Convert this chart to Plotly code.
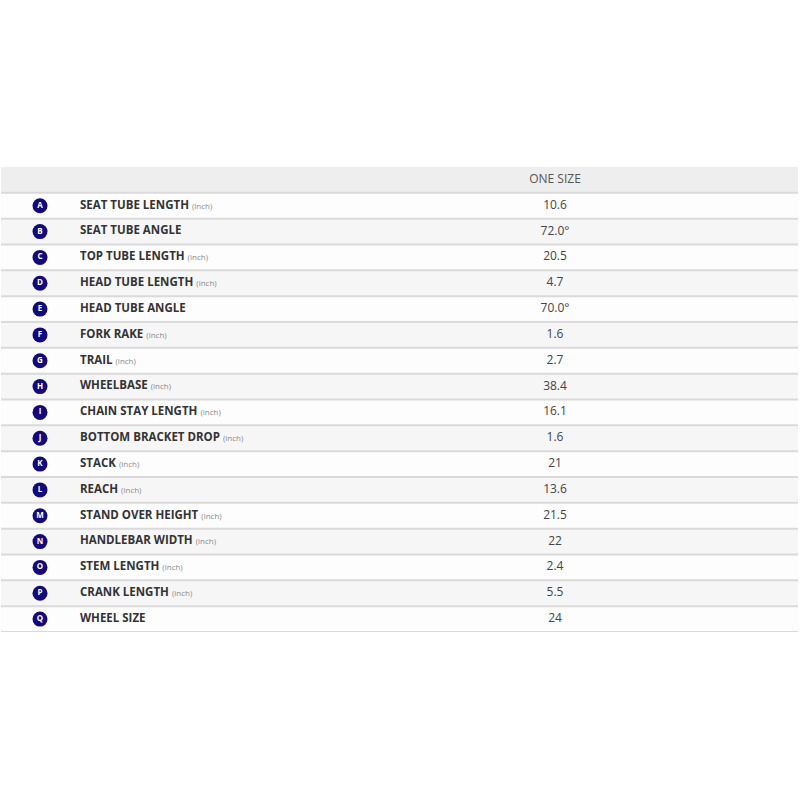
import plotly.graph_objects as go

# ── geometry table data ─────────────────────────────────────────────────────
LETTERS = list("ABCDEFGHIJKLMNOPQ")
LABELS = [
    "SEAT TUBE LENGTH", "SEAT TUBE ANGLE", "TOP TUBE LENGTH", "HEAD TUBE LENGTH",
    "HEAD TUBE ANGLE", "FORK RAKE", "TRAIL", "WHEELBASE", "CHAIN STAY LENGTH",
    "BOTTOM BRACKET DROP", "STACK", "REACH", "STAND OVER HEIGHT",
    "HANDLEBAR WIDTH", "STEM LENGTH", "CRANK LENGTH", "WHEEL SIZE",
]
UNITS = [
    "inch", "", "inch", "inch", "", "inch", "inch", "inch", "inch",
    "inch", "inch", "inch", "inch", "inch", "inch", "inch", "",
]
VALUES = [
    "10.6", "72.0°", "20.5", "4.7", "70.0°", "1.6", "2.7", "38.4", "16.1",
    "1.6", "21", "13.6", "21.5", "22", "2.4", "5.5", "24",
]
HEADER = "ONE SIZE"

C = dict(
    header="#eeeeee",
    row_a="#fdfdfd",
    row_b="#f6f6f6",
    border="#dadada",
    badge="#14097a",
    label="#333333",
    unit="#8a8a8a",
    value="#444444",
)
FONT = "Open Sans, Noto Sans, sans-serif"

n = len(LABELS)
rows = list(range(1, n + 1))

fig = go.Figure()

# row backgrounds (header + alternating stripes)
fig.add_trace(go.Bar(
    y=[0] + rows, x=[797] * (n + 1), base=1, orientation="h", width=1,
    marker=dict(color=[C["header"]] + [C["row_a"] if r % 2 else C["row_b"] for r in rows],
                line=dict(width=0)),
    hoverinfo="skip", showlegend=False,
))

# horizontal row borders
bx, by = [], []
for r in range(n + 1):
    bx += [1, 798, None]
    by += [r + 0.5, r + 0.5, None]
fig.add_trace(go.Scatter(
    x=bx, y=by, mode="lines", line=dict(color=C["border"], width=2),
    hoverinfo="skip", showlegend=False,
))

# letter badges
fig.add_trace(go.Scatter(
    x=[40] * n, y=rows, mode="markers+text", text=[f"<b>{l}</b>" for l in LETTERS],
    marker=dict(size=15, color=C["badge"], line=dict(width=0)),
    textposition="middle center",
    textfont=dict(family=FONT, size=8, color="white"),
    hoverinfo="skip", showlegend=False,
))

# labels
label_text = [
    f"<b>{lab}</b>" + (f" <span style='font-size:8px;color:{C['unit']}'>({u})</span>" if u else "")
    for lab, u in zip(LABELS, UNITS)
]
fig.add_trace(go.Scatter(
    x=[80] * n, y=rows, mode="text", text=label_text, textposition="middle right",
    textfont=dict(family=FONT, size=11.5, color=C["label"]),
    hoverinfo="skip", showlegend=False,
))

# values + header
fig.add_trace(go.Scatter(
    x=[555] * (n + 1), y=[0] + rows, mode="text", text=[HEADER] + VALUES,
    textposition="middle center",
    textfont=dict(family=FONT, size=12, color=["#555555"] + [C["value"]] * n),
    hoverinfo="skip", showlegend=False,
))

fig.update_layout(
    width=800, height=800,
    margin=dict(l=0, r=0, t=167, b=168),
    paper_bgcolor="white", plot_bgcolor="white",
    xaxis=dict(range=[0, 800], visible=False, fixedrange=True),
    yaxis=dict(range=[n + 0.5, -0.5], visible=False, fixedrange=True),
    bargap=0,
    showlegend=False,
)

# drop the default body margin so the 800x800 figure fills the window exactly
fig.write_html(
    "out.html",
    config={"displayModeBar": False},
    post_script="document.body.style.margin='0';",
)
